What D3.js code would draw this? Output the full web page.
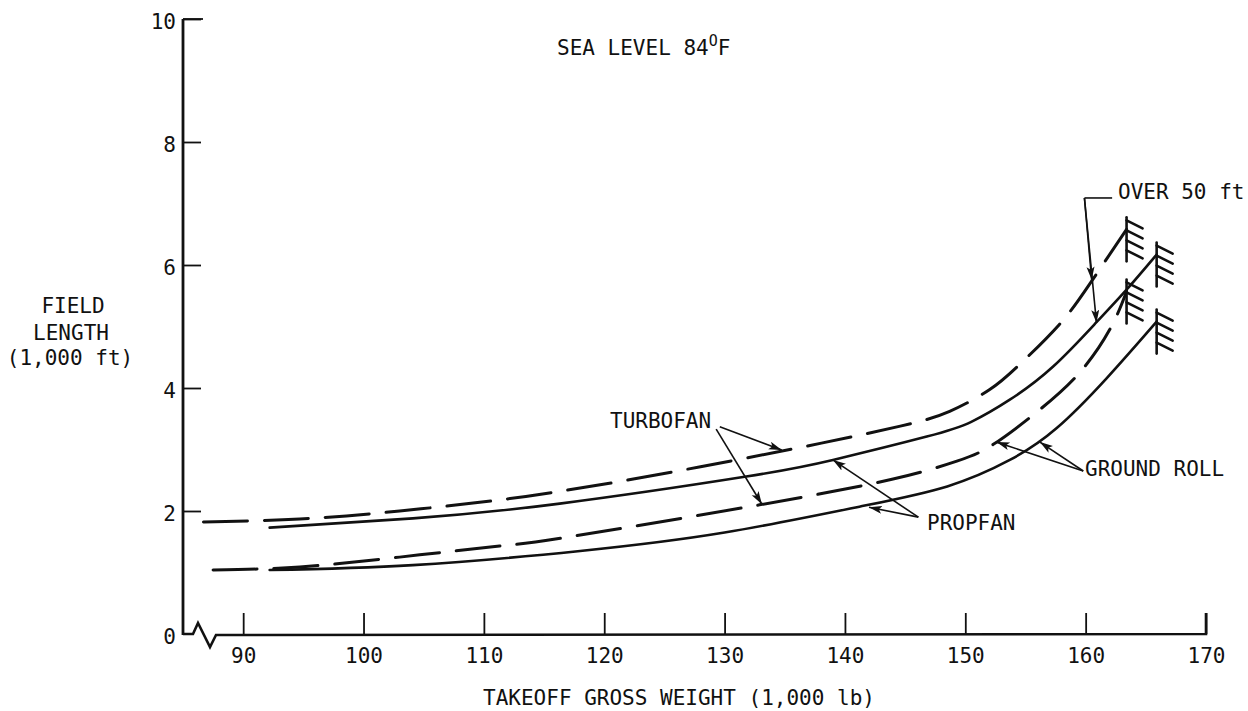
<!DOCTYPE html>
<html><head><meta charset="utf-8">
<script src="https://cdn.jsdelivr.net/npm/d3@7"></script>
<style>
body{margin:0;background:#fff;}
svg{display:block;background:#fff;}
text{font-family:"DejaVu Sans Mono",monospace;font-size:21px;fill:#111;}
</style></head><body>
<svg id="c" width="1248" height="711"></svg>
<script>
// ---- data (weights in 1,000 lb, field length in 1,000 ft) ----
const xTickValues = [90, 100, 110, 120, 130, 140, 150, 160, 170];
const yTickValues = [0, 2, 4, 6, 8, 10];

const turbofanOverWeight = [86.7, 94.7, 103.0, 111.3, 116.3, 121.3, 128.0, 136.2, 144.6, 148.7, 152.0, 154.5, 157.8, 160.3, 163.4];
const turbofanOverLength = [1.82, 1.87, 2.00, 2.18, 2.32, 2.48, 2.72, 3.03, 3.38, 3.62, 3.97, 4.38, 5.03, 5.68, 6.58];

const propfanOverWeight = [92.2, 104.1, 116.3, 131.8, 139.0, 146.8, 150.5, 153.7, 157.3, 160.9, 163.4, 165.9];
const propfanOverLength = [1.73, 1.88, 2.12, 2.56, 2.83, 3.21, 3.45, 3.81, 4.35, 5.07, 5.60, 6.17];

const turbofanGroundWeight = [87.5, 94.7, 103.0, 111.3, 117.1, 132.9, 144.0, 149.3, 152.3, 156.2, 159.5, 162.0, 163.4];
const turbofanGroundLength = [1.04, 1.09, 1.25, 1.43, 1.58, 2.10, 2.52, 2.81, 3.08, 3.65, 4.25, 4.95, 5.57];

const propfanGroundWeight = [92.2, 104.1, 118.0, 130.0, 141.2, 148.5, 153.7, 157.6, 161.7, 165.9];
const propfanGroundLength = [1.04, 1.12, 1.35, 1.65, 2.07, 2.40, 2.83, 3.35, 4.15, 5.08];

const seriesNames = ["Turbofan over 50 ft", "Propfan over 50 ft", "Turbofan ground roll", "Propfan ground roll"];
const seriesDashed = [true, false, true, false];

// ---- layout ----
const svg = d3.select("#c");
const x = d3.scaleLinear().domain([85, 170]).range([183, 1206]);
const y = d3.scaleLinear().domain([0, 10]).range([634, 19]);
const ink = "#111";

const series = [
  {name: seriesNames[0], w: turbofanOverWeight, l: turbofanOverLength, dashed: seriesDashed[0]},
  {name: seriesNames[1], w: propfanOverWeight, l: propfanOverLength, dashed: seriesDashed[1]},
  {name: seriesNames[2], w: turbofanGroundWeight, l: turbofanGroundLength, dashed: seriesDashed[2]},
  {name: seriesNames[3], w: propfanGroundWeight, l: propfanGroundLength, dashed: seriesDashed[3]}
];

// arrow marker
const defs = svg.append("defs");
defs.append("marker").attr("id", "arr").attr("markerUnits", "userSpaceOnUse")
  .attr("markerWidth", 14).attr("markerHeight", 10).attr("refX", 13).attr("refY", 4)
  .attr("orient", "auto")
  .append("path").attr("d", "M0,0 L13,4 L0,8 L3,4 Z").attr("fill", ink);

// ---- axes ----
const xAxis = d3.axisBottom(x).tickValues(xTickValues).tickSizeInner(-21).tickSizeOuter(0).tickFormat(d3.format("d"));
const gx = svg.append("g").attr("transform", `translate(0,${y(0)})`).call(xAxis);
gx.select(".domain").remove();
gx.selectAll(".tick line").attr("stroke", ink).attr("stroke-width", 1.8);
gx.selectAll(".tick text").attr("y", 29).attr("dy", 0).attr("fill", ink)
  .style("font-family", '"DejaVu Sans Mono",monospace').style("font-size", "21px");

const yAxis = d3.axisLeft(y).tickValues(yTickValues).tickSizeInner(-18).tickSizeOuter(0).tickFormat(d3.format("d"));
const gy = svg.append("g").attr("transform", `translate(${x(85)},0)`).call(yAxis);
gy.select(".domain").remove();
gy.selectAll(".tick line").attr("stroke", ink).attr("stroke-width", 1.8)
  .attr("display", d => d === 0 ? "none" : null);
gy.selectAll(".tick text").attr("x", -7).attr("dy", "0.45em").attr("fill", ink)
  .style("font-family", '"DejaVu Sans Mono",monospace').style("font-size", "21px");

// axis lines (with break on x axis)
const x0 = x(85), y0 = y(0);
svg.append("line").attr("x1", x0).attr("x2", x0).attr("y1", y(10)).attr("y2", y0 + 1)
  .attr("stroke", ink).attr("stroke-width", 2.8);
svg.append("path")
  .attr("d", `M${x0},${y0} L${x0 + 10},${y0} L${x0 + 15},${y0 - 11} L${x0 + 27},${y0 + 13} L${x0 + 33},${y0 + 1} L${x(170)},${y0} L${x(170)},${y0 - 21}`)
  .attr("fill", "none").attr("stroke", ink).attr("stroke-width", 2.6).attr("stroke-linejoin", "miter");
svg.append("line").attr("x1", x0).attr("x2", x0 + 20).attr("y1", y(10)).attr("y2", y(10))
  .attr("stroke", ink).attr("stroke-width", 1.8);

// ---- curves ----
const line = d3.line().x(d => x(d[0])).y(d => y(d[1])).curve(d3.curveNatural);
series.forEach(s => {
  const pts = s.w.map((w, i) => [w, s.l[i]]);
  svg.append("path").datum(pts).attr("d", line)
    .attr("fill", "none").attr("stroke", ink).attr("stroke-width", s.dashed ? 3 : 2.6)
    .attr("stroke-dasharray", s.dashed ? "44 17" : null).attr("stroke-linecap", "round");
  // hatched end marker
  const ex = x(s.w[s.w.length - 1]), ey = y(s.l[s.l.length - 1]);
  const g = svg.append("g").attr("stroke", ink).attr("stroke-width", 2.6).attr("stroke-linecap", "round");
  g.append("line").attr("x1", ex).attr("x2", ex).attr("y1", ey - 12).attr("y2", ey + 32);
  [-9, 1, 11, 21].forEach(o => {
    g.append("line").attr("x1", ex).attr("y1", ey + o).attr("x2", ex + 16).attr("y2", ey + o + 8);
  });
});

// ---- annotations ----
function leader(a, b, arrow = true) {
  svg.append("line").attr("x1", x(a[0])).attr("y1", y(a[1])).attr("x2", x(b[0])).attr("y2", y(b[1]))
    .attr("stroke", ink).attr("stroke-width", 1.6).attr("marker-end", arrow ? "url(#arr)" : null);
}
function label(t, px, py, anchor = "start") {
  return svg.append("text").attr("x", px).attr("y", py).attr("text-anchor", anchor).text(t);
}

// title
const t = svg.append("text").attr("x", 557).attr("y", 55);
t.append("tspan").text("SEA LEVEL 84");
t.append("tspan").attr("dy", -9).style("font-size", "15px").text("O");
t.append("tspan").attr("dy", 9).text("F");

// y label
label("FIELD", 73, 313, "middle");
label("LENGTH", 71, 340, "middle");
label("(1,000 ft)", 70, 365, "middle");

// x label
label("TAKEOFF GROSS WEIGHT (1,000 lb)", 679, 705, "middle");

// TURBOFAN
label("TURBOFAN", 610, 428);
leader([129.6, 3.37], [134.75, 2.99]);
leader([129.3, 3.33], [133.1, 2.11]);

// PROPFAN
label("PROPFAN", 927, 530);
leader([146.1, 1.90], [139.0, 2.83]);
leader([146.1, 1.90], [142.0, 2.06]);

// GROUND ROLL
label("GROUND ROLL", 1085, 476);
leader([159.8, 2.65], [152.6, 3.12]);
leader([159.8, 2.65], [156.2, 3.12]);

// OVER 50 ft
label("OVER 50 ft", 1118, 199);
leader([162.2, 7.09], [159.9, 7.09], false);
leader([159.9, 7.09], [160.5, 5.76]);
leader([159.9, 7.09], [160.9, 5.06]);
</script>
</body></html>
